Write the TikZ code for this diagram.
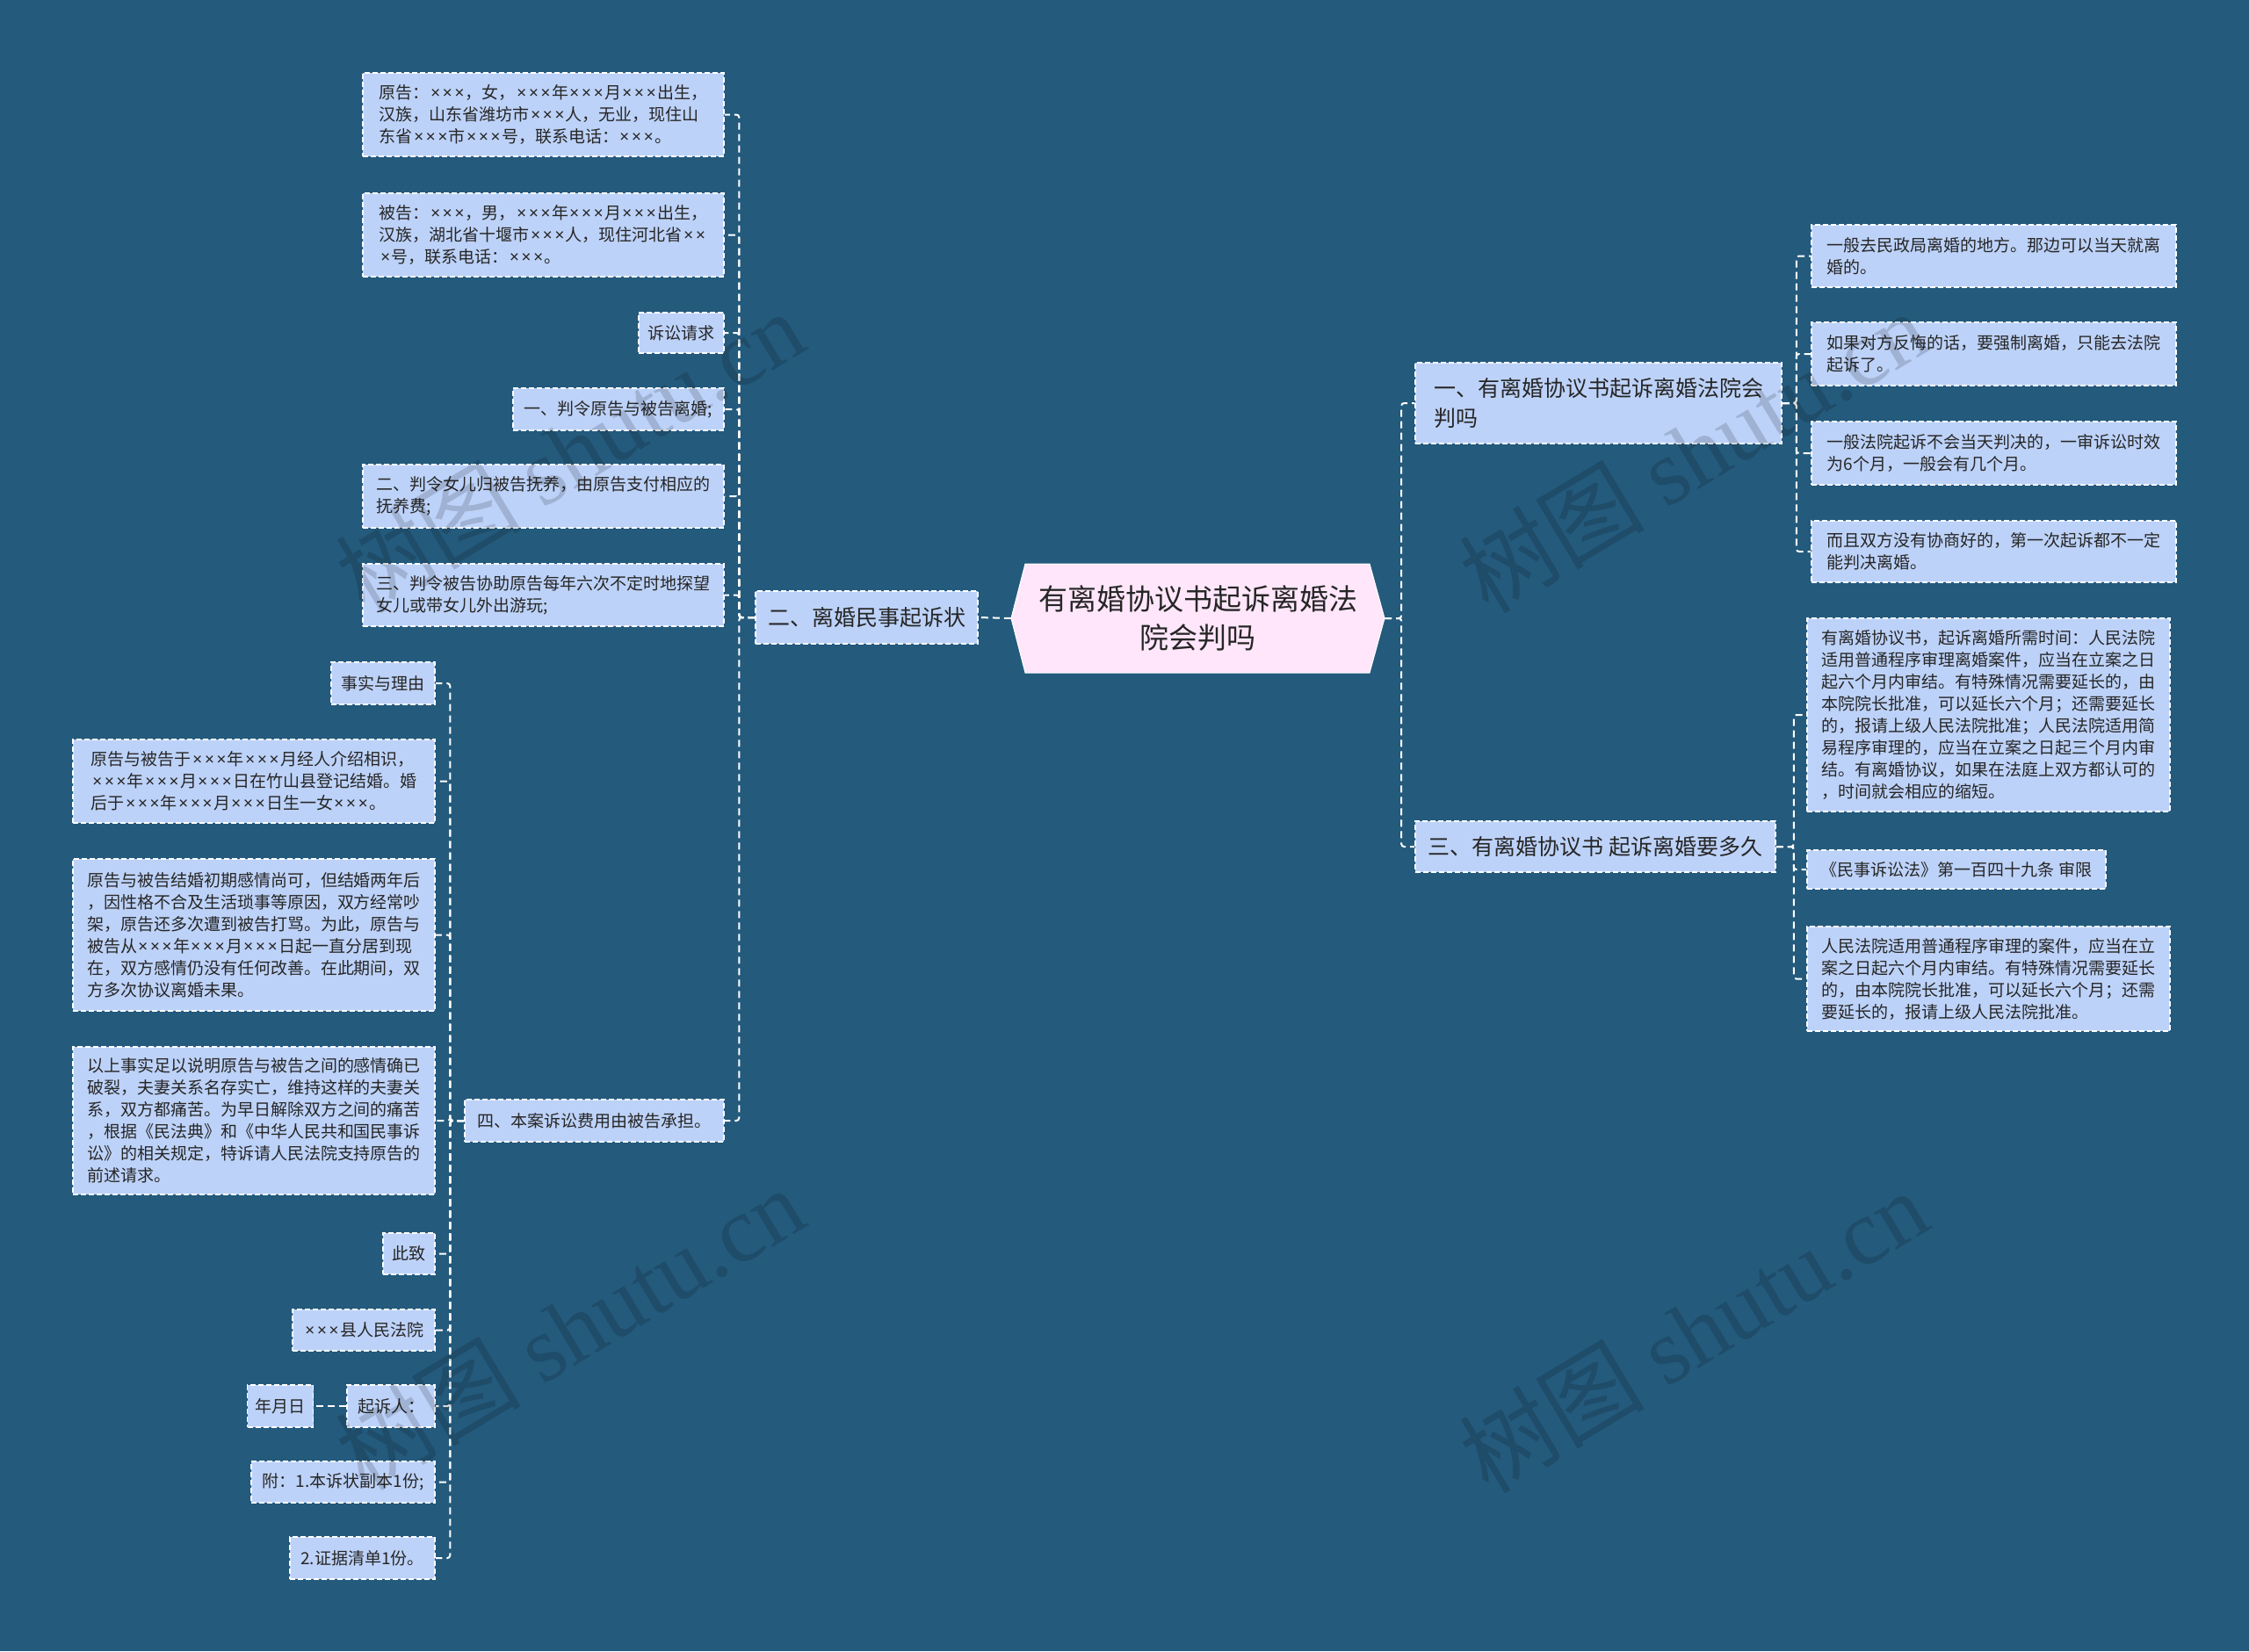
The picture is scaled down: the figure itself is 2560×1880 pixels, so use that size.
\documentclass[tikz,border=0pt]{standalone}
\usepackage{fontspec}
\setmainfont{Noto Sans CJK SC}
\newfontfamily\wmfont{Liberation Serif}
\newfontfamily\latf{Noto Sans}
\newcommand\xx{\makebox[0.72em]{\latf ×}}
\newcommand\xxx{\xx\xx\xx}
\definecolor{bg}{HTML}{245A7C}
\definecolor{leaffill}{HTML}{BDD2F8}
\definecolor{rootfill}{HTML}{FFE6FA}
\definecolor{txt}{HTML}{262626}
\tikzset{
  leaf/.style={draw=white, line width=1.5pt, dash pattern=on 6pt off 3pt, fill=leaffill,
    text=txt, align=left, inner xsep=9pt, inner ysep=5pt, font=\fontsize{19}{25}\selectfont},
  mid/.style={leaf, font=\fontsize{25}{34}\selectfont, inner xsep=11pt},
  conn/.style={draw=white, line width=2pt, dash pattern=on 8pt off 5pt, rounded corners=3pt},
  wm/.style={rotate=31, text=black, opacity=0.15, font=\fontsize{106}{106}\selectfont},
}
\newcommand\mmbox[7][leaf]{\node[#1, minimum width={#5-#3}, minimum height={#6-#4}] (#2) at ({(#3+#5)/2},{(#4+#6)/2}) {#7};}
\begin{document}
\begin{tikzpicture}[x=1pt, y=-1pt]
\fill[bg] (0,0) rectangle (2560,1880);
\useasboundingbox (0,0) rectangle (2560,1880);

% root
\filldraw[fill=rootfill, draw=white, line width=1pt] (1151,704) -- (1167,642) -- (1559,642) -- (1576,704) -- (1559,766) -- (1167,766) -- cycle;
\node[text=txt, align=center, font=\fontsize{33}{44}\selectfont, minimum width=425, minimum height=124, inner sep=0pt] (root) at (1363.5,704) {有离婚协议书起诉离婚法\\院会判吗};

% level 1
\mmbox[mid]{b2}{860}{673}{1113}{733}{二、离婚民事起诉状}
\mmbox[mid]{b1}{1611}{413}{2028}{505}{一、有离婚协议书起诉离婚法院会\\判吗}
\mmbox[mid]{b3}{1611}{935}{2021}{993}{三、有离婚协议书 起诉离婚要多久}

% children of 二
\mmbox{a1}{413}{83}{824}{178}{原告：\xxx{}，女，\xxx{}年\xxx{}月\xxx{}出生，\\汉族，山东省潍坊市\xxx{}人，无业，现住山\\东省\xxx{}市\xxx{}号，联系电话：\xxx{}。}
\mmbox{a2}{413}{220}{824}{315}{被告：\xxx{}，男，\xxx{}年\xxx{}月\xxx{}出生，\\汉族，湖北省十堰市\xxx{}人，现住河北省\xx\xx\\\xx{}号，联系电话：\xxx{}。}
\mmbox{a3}{727}{356}{824}{402}{诉讼请求}
\mmbox{a4}{584}{442}{824}{490}{一、判令原告与被告离婚;}
\mmbox{a5}{413}{529}{824}{601}{二、判令女儿归被告抚养，由原告支付相应的\\抚养费;}
\mmbox{a6}{413}{642}{824}{713}{三、判令被告协助原告每年六次不定时地探望\\女儿或带女儿外出游玩;}
\mmbox{b4}{529}{1252}{824}{1300}{四、本案诉讼费用由被告承担。}

% children of 四
\mmbox{c1}{377}{754}{495}{802}{事实与理由}
\mmbox{c2}{83}{842}{495}{937}{原告与被告于\xxx{}年\xxx{}月经人介绍相识，\\\xxx{}年\xxx{}月\xxx{}日在竹山县登记结婚。婚\\后于\xxx{}年\xxx{}月\xxx{}日生一女\xxx{}。}
\mmbox{c3}{83}{978}{495}{1151}{原告与被告结婚初期感情尚可，但结婚两年后\\，因性格不合及生活琐事等原因，双方经常吵\\架，原告还多次遭到被告打骂。为此，原告与\\被告从\xxx{}年\xxx{}月\xxx{}日起一直分居到现\\在，双方感情仍没有任何改善。在此期间，双\\方多次协议离婚未果。}
\mmbox{c4}{83}{1192}{495}{1360}{以上事实足以说明原告与被告之间的感情确已\\破裂，夫妻关系名存实亡，维持这样的夫妻关\\系，双方都痛苦。为早日解除双方之间的痛苦\\，根据《民法典》和《中华人民共和国民事诉\\讼》的相关规定，特诉请人民法院支持原告的\\前述请求。}
\mmbox{c5}{436}{1404}{495}{1451}{此致}
\mmbox{c6}{333}{1491}{495}{1538}{\xxx{}县人民法院}
\mmbox{c7}{395}{1577}{495}{1625}{起诉人：}
\mmbox{c0}{282}{1577}{356}{1625}{年月日}
\mmbox{c8}{286}{1664}{495}{1711}{附：1.本诉状副本1份;}
\mmbox{c9}{330}{1750}{495}{1798}{2.证据清单1份。}

% children of 一
\mmbox{r1}{2062}{256}{2477}{327}{一般去民政局离婚的地方。那边可以当天就离\\婚的。}
\mmbox{r2}{2062}{367}{2477}{439}{如果对方反悔的话，要强制离婚，只能去法院\\起诉了。}
\mmbox{r3}{2062}{480}{2477}{552}{一般法院起诉不会当天判决的，一审诉讼时效\\为6个月，一般会有几个月。}
\mmbox{r4}{2062}{593}{2477}{663}{而且双方没有协商好的，第一次起诉都不一定\\能判决离婚。}

% children of 三
\mmbox{s1}{2057}{704}{2470}{924}{有离婚协议书，起诉离婚所需时间：人民法院\\适用普通程序审理离婚案件，应当在立案之日\\起六个月内审结。有特殊情况需要延长的，由\\本院院长批准，可以延长六个月；还需要延长\\的，报请上级人民法院批准；人民法院适用简\\易程序审理的，应当在立案之日起三个月内审\\结。有离婚协议，如果在法庭上双方都认可的\\，时间就会相应的缩短。}
\mmbox{s2}{2057}{968}{2397}{1012}{《民事诉讼法》第一百四十九条 审限}
\mmbox{s3}{2057}{1055}{2470}{1174}{人民法院适用普通程序审理的案件，应当在立\\案之日起六个月内审结。有特殊情况需要延长\\的，由本院院长批准，可以延长六个月；还需\\要延长的，报请上级人民法院批准。}

% connectors
\draw[conn] (root.west) -- (b2.east);
\foreach \c in {b1,b3} \draw[conn] (root.east) -- ++(19,0) |- (\c.west);
\foreach \c in {a1,a2,a3,a4,a5,a6,b4} \draw[conn] (b2.west) -- ++(-18,0) |- (\c.east);
\foreach \c in {c1,c2,c3,c4,c5,c6,c7,c8,c9} \draw[conn] (b4.west) -- ++(-16,0) |- (\c.east);
\draw[conn] (c7.west) -- (c0.east);
\foreach \c in {r1,r2,r3,r4} \draw[conn] (b1.east) -- ++(16,0) |- (\c.west);
\foreach \c in {s1,s2,s3} \draw[conn] (b3.east) -- ++(20,0) |- (\c.west);

% watermarks
\node[wm] (w1) at (648,514) {树图 {\wmfont shutu.cn}};
\node[wm] (w2) at (1927,514) {树图 {\wmfont shutu.cn}};
\node[wm] (w3) at (648,1512) {树图 {\wmfont shutu.cn}};
\node[wm] (w4) at (1927,1515) {树图 {\wmfont shutu.cn}};
\end{tikzpicture}
\end{document}
